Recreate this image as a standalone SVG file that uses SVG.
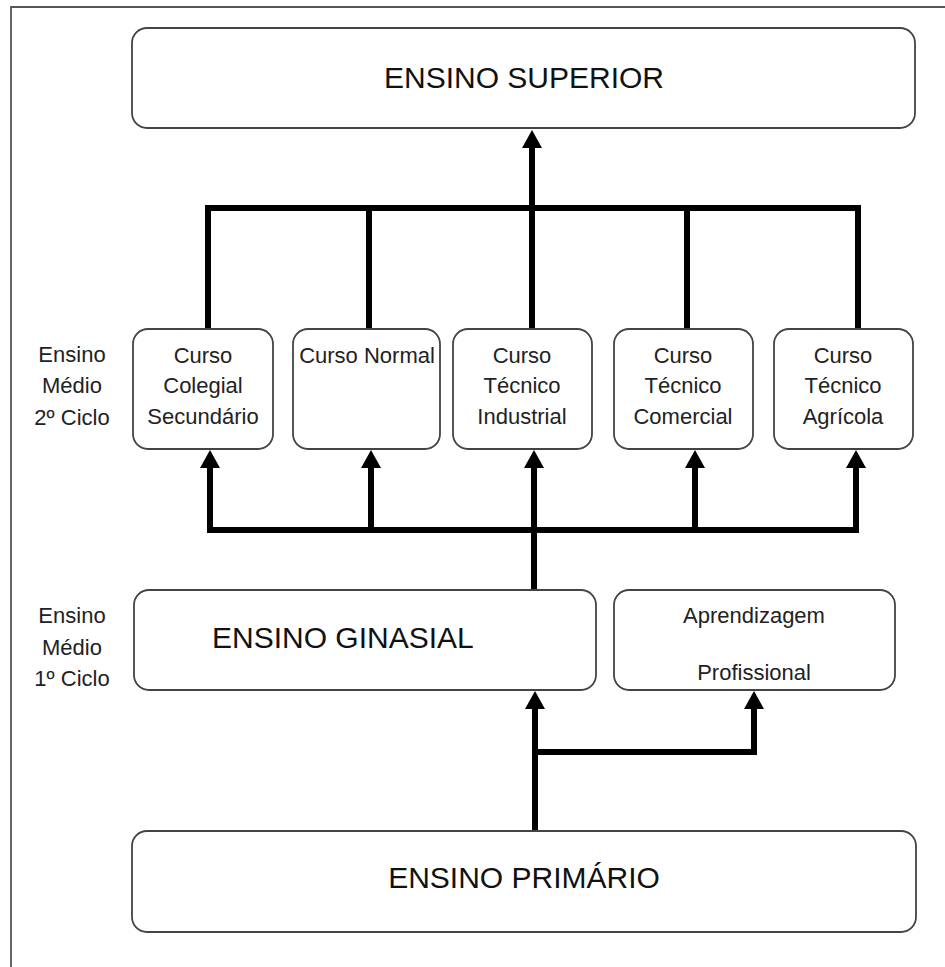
<svg xmlns="http://www.w3.org/2000/svg" width="945" height="967" viewBox="0 0 945 967">
<defs>
<style>
.box{fill:#fff;stroke:#444;stroke-width:1.8}
.frame{fill:none;stroke:#555;stroke-width:1.8}
.big{font-family:"Liberation Sans",Arial,sans-serif;font-size:30px;fill:#111;text-anchor:middle}
.sm{font-family:"Liberation Sans",Arial,sans-serif;font-size:22px;fill:#222;text-anchor:middle}
.c{fill:none;stroke:#000;stroke-width:6;stroke-linejoin:miter}
.a{fill:none;stroke:#000;stroke-width:6;marker-end:url(#ah)}
</style>
<marker id="ah" markerUnits="userSpaceOnUse" viewBox="0 0 18 20" refX="0" refY="10" markerWidth="18" markerHeight="20" orient="auto">
<path d="M0,0 L18,10 L0,20 z" fill="#000"/>
</marker>
</defs>
<rect width="945" height="967" fill="#fff"/>
<path class="frame" d="M11,967 L11,7 L945,7"/>

<g id="connectors">
<path class="c" d="M208,330 L208,208 L858,208 L858,330"/>
<path class="c" d="M369,208 L369,330"/>
<path class="c" d="M532,208 L532,330"/>
<path class="c" d="M687,208 L687,330"/>
<path class="a" d="M532,208 L532,148"/>
<path class="c" d="M210,468 L210,530 L856,530 L856,468"/>
<path class="a" d="M210,530 L210,468"/>
<path class="a" d="M371,530 L371,468"/>
<path class="a" d="M534,590 L534,468"/>
<path class="a" d="M695,530 L695,468"/>
<path class="a" d="M856,530 L856,468"/>
<path class="a" d="M535,831 L535,709"/>
<path class="c" d="M535,752 L754,752 L754,709"/>
<path class="a" d="M754,752 L754,709"/>
</g>

<g id="superior">
<rect class="box" x="132" y="28" width="783" height="100" rx="15"/>
<text class="big" x="524" y="88">ENSINO SUPERIOR</text>
</g>

<g id="label-2ciclo">
<text class="sm" x="72" y="362">Ensino</text>
<text class="sm" x="72" y="393">Médio</text>
<text class="sm" x="72" y="425">2º Ciclo</text>
</g>

<g id="colegial">
<rect class="box" x="133" y="329" width="140" height="120" rx="15"/>
<text class="sm" x="203" y="363">Curso</text>
<text class="sm" x="203" y="393">Colegial</text>
<text class="sm" x="203" y="424">Secundário</text>
</g>

<g id="normal">
<rect class="box" x="293" y="329" width="147" height="120" rx="15"/>
<text class="sm" x="367" y="363">Curso Normal</text>
</g>

<g id="industrial">
<rect class="box" x="453" y="329" width="139" height="120" rx="15"/>
<text class="sm" x="522" y="363">Curso</text>
<text class="sm" x="522" y="393">Técnico</text>
<text class="sm" x="522" y="424">Industrial</text>
</g>

<g id="comercial">
<rect class="box" x="614" y="329" width="139" height="120" rx="15"/>
<text class="sm" x="683" y="363">Curso</text>
<text class="sm" x="683" y="393">Técnico</text>
<text class="sm" x="683" y="424">Comercial</text>
</g>

<g id="agricola">
<rect class="box" x="774" y="329" width="139" height="120" rx="15"/>
<text class="sm" x="843" y="363">Curso</text>
<text class="sm" x="843" y="393">Técnico</text>
<text class="sm" x="843" y="424">Agrícola</text>
</g>

<g id="label-1ciclo">
<text class="sm" x="72" y="623">Ensino</text>
<text class="sm" x="72" y="655">Médio</text>
<text class="sm" x="72" y="686">1º Ciclo</text>
</g>

<g id="ginasial">
<rect class="box" x="134" y="590" width="462" height="100" rx="15"/>
<text class="big" x="212" y="648" style="text-anchor:start">ENSINO GINASIAL</text>
</g>

<g id="aprendizagem">
<rect class="box" x="614" y="590" width="281" height="100" rx="15"/>
<text class="sm" x="754" y="623">Aprendizagem</text>
<text class="sm" x="754" y="680">Profissional</text>
</g>

<g id="primario">
<rect class="box" x="132" y="831" width="784" height="101" rx="15"/>
<text class="big" x="524" y="888">ENSINO PRIMÁRIO</text>
</g>
</svg>
